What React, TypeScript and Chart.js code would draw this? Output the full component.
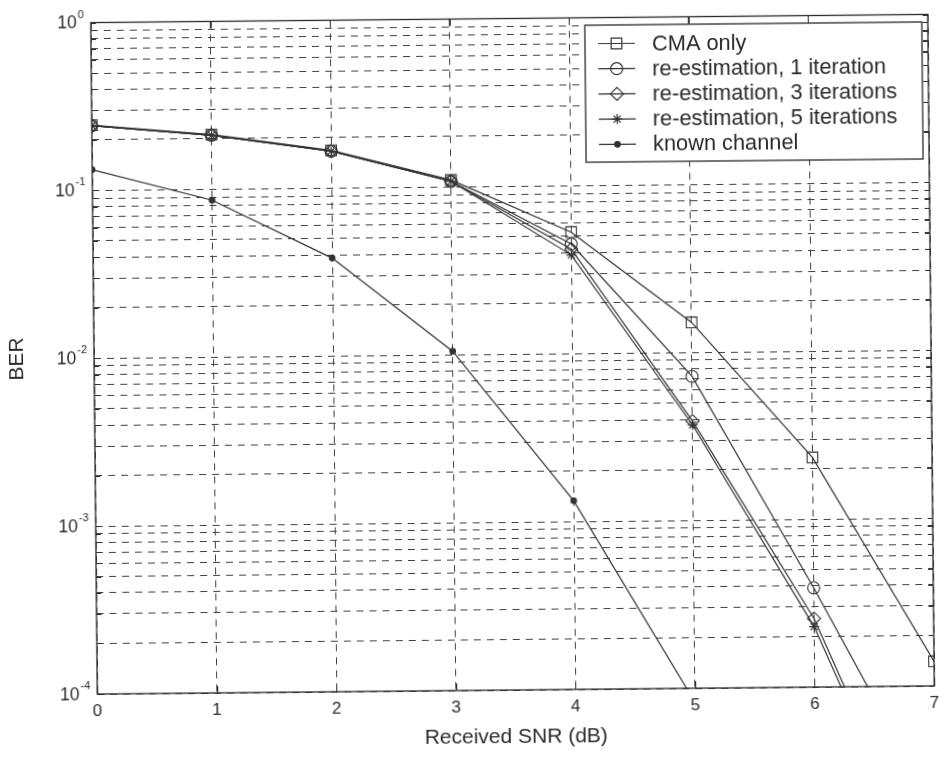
import React, { useEffect, useRef } from 'react';
import { Chart, registerables } from 'chart.js';

Chart.register(...registerables);

// ---- data ----
const snrDb = [0, 1, 2, 3, 4, 5, 6, 7];
const cmaOnly = [0.245, 0.212, 0.168, 0.11, 0.053, 0.0151, 0.00233, 0.00014];
const reEst1 = [0.243, 0.21, 0.166, 0.108, 0.045, 0.0072, 0.00039, 0.000018];
const reEst3 = [0.243, 0.21, 0.166, 0.108, 0.042, 0.0039, 0.000256, 0.0000059];
const reEst5 = [0.243, 0.21, 0.166, 0.108, 0.0387, 0.0037, 0.000229, 0.0000054];
const knownChannel = [0.133, 0.0862, 0.0383, 0.0105, 0.00133, 0.000082, null, null];
const seriesLabels = [
  'CMA only',
  're-estimation, 1 iteration',
  're-estimation, 3 iterations',
  're-estimation, 5 iterations',
  'known channel',
];
const xTickValues = [0, 1, 2, 3, 4, 5, 6, 7];
const yDecades = [-4, -3, -2, -1, 0];
const yMantissas = [1, 2, 3, 4, 5, 6, 7, 8, 9];
const xTitle = 'Received SNR (dB)';
const yTitle = 'BER';

const FONT = '"Liberation Sans", Arial, Helvetica, sans-serif';
const INK = '#2a2a2a';
const LINE = '#333333';
const GRID = '#404040';

const yTickValues: number[] = [];
yDecades.forEach((e) => {
  if (e === 0) {
    yTickValues.push(1);
  } else {
    yMantissas.forEach((m) => yTickValues.push(m * Math.pow(10, e)));
  }
});

function drawMarker(ctx: CanvasRenderingContext2D, style: string, r: number, x: number, y: number, filled: boolean) {
  ctx.beginPath();
  if (style === 'rect') {
    const s = Math.SQRT1_2 * r;
    ctx.rect(x - s, y - s, 2 * s, 2 * s);
  } else if (style === 'rectRot') {
    ctx.moveTo(x, y - r);
    ctx.lineTo(x + r, y);
    ctx.lineTo(x, y + r);
    ctx.lineTo(x - r, y);
    ctx.closePath();
  } else if (style === 'star') {
    for (let i = 0; i < 4; i++) {
      const a = (i * Math.PI) / 4;
      ctx.moveTo(x + Math.cos(a) * r, y + Math.sin(a) * r);
      ctx.lineTo(x - Math.cos(a) * r, y - Math.sin(a) * r);
    }
  } else {
    ctx.arc(x, y, r, 0, Math.PI * 2);
  }
  if (filled) ctx.fill();
  ctx.stroke();
}

const decorPlugin = {
  id: 'decor',
  afterDraw(chart: any) {
    const { ctx, chartArea: a, scales } = chart;
    const ys = scales.y;
    const xs = scales.x;
    ctx.save();
    ctx.setLineDash([]);
    ctx.strokeStyle = INK;
    ctx.lineWidth = 1;

    // inner tick marks
    ctx.beginPath();
    ys.ticks.forEach((t: any) => {
      const py = Math.round(ys.getPixelForValue(t.value)) + 0.5;
      ctx.moveTo(a.left, py);
      ctx.lineTo(a.left + 5, py);
      ctx.moveTo(a.right, py);
      ctx.lineTo(a.right - 5, py);
    });
    xs.ticks.forEach((t: any) => {
      const px = Math.round(xs.getPixelForValue(t.value)) + 0.5;
      ctx.moveTo(px, a.bottom);
      ctx.lineTo(px, a.bottom - 7);
      ctx.moveTo(px, a.top);
      ctx.lineTo(px, a.top + 7);
    });
    ctx.stroke();

    // axes box
    ctx.lineWidth = 1.3;
    ctx.strokeRect(a.left, a.top, a.right - a.left, a.bottom - a.top);

    // y tick labels 10^n
    ctx.fillStyle = INK;
    ctx.textBaseline = 'middle';
    ctx.textAlign = 'right';
    yDecades.forEach((e) => {
      const py = ys.getPixelForValue(Math.pow(10, e));
      const expStr = String(e);
      ctx.font = `11px ${FONT}`;
      const ex = a.left - 7;
      ctx.fillText(expStr, ex, py - 8);
      const ew = ctx.measureText(expStr).width;
      ctx.font = `17.5px ${FONT}`;
      ctx.fillText('10', ex - ew - 1, py + 1);
    });

    // legend
    const bx = 588;
    const by = 26;
    const bw = 337;
    const bh = 137;
    ctx.fillStyle = '#ffffff';
    ctx.fillRect(bx, by, bw, bh);
    ctx.lineWidth = 1.3;
    ctx.strokeStyle = INK;
    ctx.strokeRect(bx, by, bw, bh);
    ctx.textAlign = 'left';
    ctx.textBaseline = 'middle';
    ctx.font = `21.8px ${FONT}`;
    chart.data.datasets.forEach((ds: any, i: number) => {
      const ry = by + 18.5 + i * 25.2;
      ctx.strokeStyle = LINE;
      ctx.lineWidth = 1.2;
      ctx.beginPath();
      ctx.moveTo(bx + 13, ry);
      ctx.lineTo(bx + 50, ry);
      ctx.stroke();
      ctx.fillStyle = LINE;
      drawMarker(ctx, ds.pointStyle, ds.pointRadius, bx + 31.5, ry, ds.pointBackgroundColor !== 'rgba(0,0,0,0)');
      ctx.fillStyle = INK;
      ctx.fillText(ds.label, bx + 67, ry + 1);
    });
    ctx.restore();
  },
};

function toPoints(vals: (number | null)[]) {
  return snrDb.map((x, i) => ({ x, y: vals[i] }));
}

export default function App() {
  const canvasRef = useRef<HTMLCanvasElement | null>(null);

  useEffect(() => {
    if (!canvasRef.current) return;
    Chart.defaults.font.family = FONT;
    const mk = (label: string, vals: (number | null)[], pointStyle: string, r: number, filled: boolean) => ({
      label,
      data: toPoints(vals),
      borderColor: LINE,
      borderWidth: 1.2,
      pointStyle,
      pointRadius: r,
      pointHoverRadius: r,
      pointBorderWidth: 1.1,
      pointBorderColor: LINE,
      pointBackgroundColor: filled ? LINE : 'rgba(0,0,0,0)',
      fill: false,
      tension: 0,
      spanGaps: false,
    });
    const chart = new Chart(canvasRef.current, {
      type: 'line',
      data: {
        datasets: [
          mk(seriesLabels[0], cmaOnly, 'rect', 7.5, false),
          mk(seriesLabels[1], reEst1, 'circle', 6, false),
          mk(seriesLabels[2], reEst3, 'rectRot', 6.5, false),
          mk(seriesLabels[3], reEst5, 'star', 5, false),
          mk(seriesLabels[4], knownChannel, 'circle', 2.8, true),
        ] as any,
      },
      options: {
        animation: false,
        responsive: false,
        devicePixelRatio: 1,
        layout: { padding: { top: 18.5, right: 14, bottom: 0, left: 0 } },
        plugins: {
          legend: { display: false },
          tooltip: { enabled: false },
        },
        scales: {
          x: {
            type: 'linear',
            min: 0,
            max: 7,
            afterBuildTicks: (s: any) => {
              s.ticks = xTickValues.map((v) => ({ value: v }));
            },
            afterFit: (s: any) => {
              s.height = 70;
            },
            grid: { color: GRID, lineWidth: 1, drawTicks: false },
            border: { display: false, dash: [7, 6] },
            ticks: {
              padding: 7,
              color: INK,
              font: { size: 17, family: FONT },
              callback: (v: any) => String(v),
            },
            title: {
              display: true,
              text: xTitle,
              color: INK,
              font: { size: 21, family: FONT },
              padding: { top: 0, bottom: 10 },
            },
          },
          y: {
            type: 'logarithmic',
            min: 1e-4,
            max: 1,
            afterBuildTicks: (s: any) => {
              s.ticks = yTickValues.map((v) => ({ value: v }));
            },
            afterFit: (s: any) => {
              s.width = 94;
            },
            grid: { color: GRID, lineWidth: 1, drawTicks: false },
            border: { display: false, dash: [7, 6] },
            ticks: { display: false },
            title: {
              display: true,
              text: yTitle,
              color: INK,
              font: { size: 21, family: FONT },
              padding: { top: 5, bottom: 0 },
            },
          },
        },
      } as any,
      plugins: [decorPlugin],
    });
    return () => chart.destroy();
  }, []);

  return (
    <div
      style={{
        position: 'absolute',
        left: 0,
        top: 0,
        width: 945,
        height: 760,
        background: '#ffffff',
        transform: 'rotate(-0.56deg)',
        transformOrigin: '512px 354px',
      }}
    >
      <canvas ref={canvasRef} width={945} height={760} style={{ width: 945, height: 760, display: 'block' }} />
    </div>
  );
}
